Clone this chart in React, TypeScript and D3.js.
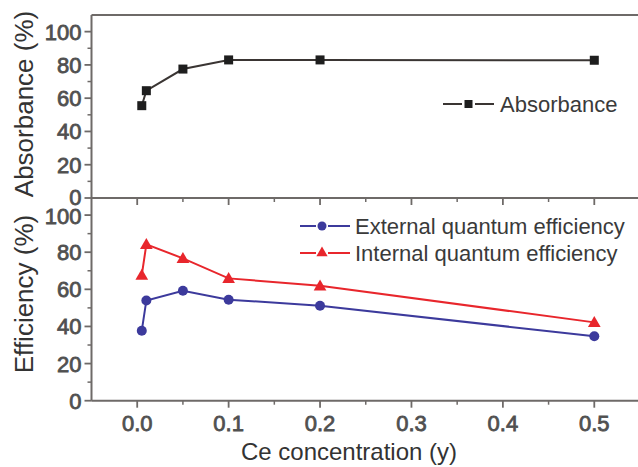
import React, { useEffect, useRef } from 'react';
import * as d3 from 'd3';

// Ce concentration (y)
const ceConc = [0.005, 0.01, 0.05, 0.1, 0.2, 0.5];
// Absorbance (%)
const absorbance = [55.5, 64.5, 77.5, 83, 83, 82.8];
// Efficiency (%)
const externalQE = [37.7, 54, 59.2, 54.4, 51.2, 34.7];
const internalQE = [67.7, 84.2, 76.7, 65.9, 61.9, 42.2];

const xTicks = [0, 0.1, 0.2, 0.3, 0.4, 0.5];
const xMinorTicks = [0.05, 0.15, 0.25, 0.35, 0.45];
const yTicks = [0, 20, 40, 60, 80, 100];
const yMinorTicks = [10, 30, 50, 70, 90];

const FONT = "'Liberation Sans', Arial, Helvetica, sans-serif";

const App = () => {
    const chartRef = useRef<SVGSVGElement>(null);

    useEffect(() => {
        drawChart();
    }, []);

    const drawChart = () => {
        const svg = d3.select(chartRef.current);
        svg.selectAll('*').remove();

        const left = 91.5;
        const right = 640;
        const top = 15;
        const mid = 198;
        const bottom = 400.7;

        const x = d3.scaleLinear().domain([-0.05, 0.55]).range([left, right]);
        const yTop = d3.scaleLinear().domain([0, 110]).range([mid, top]);
        const yBot = d3.scaleLinear().domain([0, 109.2]).range([bottom, mid]);

        const axisColor = '#6e6a68';
        const tickText = '#505050';

        // frame
        [top, mid, bottom].forEach(yy => {
            svg.append('line').attr('x1', left).attr('x2', right).attr('y1', yy).attr('y2', yy)
                .attr('stroke', axisColor).attr('stroke-width', 2);
        });
        svg.append('line').attr('x1', left).attr('x2', left).attr('y1', top).attr('y2', bottom)
            .attr('stroke', axisColor).attr('stroke-width', 2);

        // y ticks for both panels
        [yTop, yBot].forEach((y, pi) => {
            const g = svg.append('g');
            g.selectAll('.major').data(yTicks).enter().append('line')
                .attr('x1', left - 7).attr('x2', left)
                .attr('y1', d => y(d)).attr('y2', d => y(d))
                .attr('stroke', axisColor).attr('stroke-width', 1.8);
            g.selectAll('.minor').data(yMinorTicks).enter().append('line')
                .attr('x1', left - 4).attr('x2', left)
                .attr('y1', d => y(d)).attr('y2', d => y(d))
                .attr('stroke', axisColor).attr('stroke-width', 1.5);
            g.selectAll('text').data(yTicks).enter().append('text')
                .attr('x', left - 10)
                .attr('y', d => y(d) + (pi === 0 && d === 0 ? 7 : pi === 1 && d === 100 ? 9 : 8))
                .attr('text-anchor', 'end')
                .attr('font-family', FONT).attr('font-size', 22)
                .attr('fill', tickText).attr('stroke', tickText).attr('stroke-width', 0.8)
                .text(d => d);
        });

        // x ticks (middle and bottom axes)
        [mid, bottom].forEach(yy => {
            svg.selectAll(null).data(xTicks).enter().append('line')
                .attr('x1', d => x(d)).attr('x2', d => x(d))
                .attr('y1', yy).attr('y2', yy + 7)
                .attr('stroke', axisColor).attr('stroke-width', 1.8);
            svg.selectAll(null).data(xMinorTicks).enter().append('line')
                .attr('x1', d => x(d)).attr('x2', d => x(d))
                .attr('y1', yy).attr('y2', yy + 4)
                .attr('stroke', axisColor).attr('stroke-width', 1.5);
        });

        svg.selectAll(null).data(xTicks).enter().append('text')
            .attr('x', d => x(d)).attr('y', bottom + 30)
            .attr('text-anchor', 'middle')
            .attr('font-family', FONT).attr('font-size', 22)
            .attr('fill', tickText).attr('stroke', tickText).attr('stroke-width', 0.8)
            .text(d => d3.format('.1f')(d));

        // axis titles
        svg.append('text')
            .attr('x', 349).attr('y', 460)
            .attr('text-anchor', 'middle')
            .attr('font-family', FONT).attr('font-size', 24).attr('fill', '#333')
            .text('Ce concentration (y)');
        svg.append('text')
            .attr('transform', `translate(33,104) rotate(-90)`)
            .attr('text-anchor', 'middle')
            .attr('font-family', FONT).attr('font-size', 26).attr('fill', '#333')
            .text('Absorbance (%)');
        svg.append('text')
            .attr('transform', `translate(33,294) rotate(-90)`)
            .attr('text-anchor', 'middle')
            .attr('font-family', FONT).attr('font-size', 26).attr('fill', '#333')
            .text('Efficiency (%)');

        // series
        const absData = ceConc.map((c, i) => ({ c, v: absorbance[i] }));
        const eqeData = ceConc.map((c, i) => ({ c, v: externalQE[i] }));
        const iqeData = ceConc.map((c, i) => ({ c, v: internalQE[i] }));

        const lineTop = d3.line<{ c: number; v: number }>().x(d => x(d.c)).y(d => yTop(d.v));
        const lineBot = d3.line<{ c: number; v: number }>().x(d => x(d.c)).y(d => yBot(d.v));

        const absColor = '#1e1e1e';
        const eqeColor = '#3c3a9c';
        const iqeColor = '#e8262c';

        svg.append('path').datum(absData).attr('d', lineTop)
            .attr('fill', 'none').attr('stroke', '#3a3533').attr('stroke-width', 2);
        svg.selectAll(null).data(absData).enter().append('rect')
            .attr('x', d => x(d.c) - 4.5).attr('y', d => yTop(d.v) - 4.5)
            .attr('width', 9).attr('height', 9).attr('fill', absColor);

        svg.append('path').datum(iqeData).attr('d', lineBot)
            .attr('fill', 'none').attr('stroke', iqeColor).attr('stroke-width', 2);
        const tri = d3.symbol().type(d3.symbolTriangle).size(70);
        svg.selectAll(null).data(iqeData).enter().append('path')
            .attr('d', tri)
            .attr('transform', d => `translate(${x(d.c)},${yBot(d.v) + 1})`)
            .attr('fill', iqeColor);

        svg.append('path').datum(eqeData).attr('d', lineBot)
            .attr('fill', 'none').attr('stroke', eqeColor).attr('stroke-width', 2);
        svg.selectAll(null).data(eqeData).enter().append('circle')
            .attr('cx', d => x(d.c)).attr('cy', d => yBot(d.v))
            .attr('r', 5).attr('fill', eqeColor);

        // legends
        const legText = '#3a3a3a';
        const absLeg = svg.append('g').attr('transform', 'translate(443,104)');
        absLeg.append('line').attr('x1', 0).attr('x2', 19).attr('y1', 0).attr('y2', 0)
            .attr('stroke', '#3a3533').attr('stroke-width', 2);
        absLeg.append('line').attr('x1', 32).attr('x2', 51).attr('y1', 0).attr('y2', 0)
            .attr('stroke', '#3a3533').attr('stroke-width', 2);
        absLeg.append('rect').attr('x', 21.5).attr('y', -4).attr('width', 8).attr('height', 8).attr('fill', absColor);
        absLeg.append('text').attr('x', 57).attr('y', 8)
            .attr('font-family', FONT).attr('font-size', 22).attr('fill', legText)
            .text('Absorbance');

        const effLeg = [
            { label: 'External quantum efficiency', color: eqeColor, y: 226, kind: 'circle' },
            { label: 'Internal quantum efficiency', color: iqeColor, y: 253, kind: 'tri' },
        ];
        effLeg.forEach(l => {
            const g = svg.append('g').attr('transform', `translate(300,${l.y})`);
            g.append('line').attr('x1', 0).attr('x2', 16).attr('y1', 0).attr('y2', 0)
                .attr('stroke', l.color).attr('stroke-width', 2);
            g.append('line').attr('x1', 28).attr('x2', 50).attr('y1', 0).attr('y2', 0)
                .attr('stroke', l.color).attr('stroke-width', 2);
            if (l.kind === 'circle') {
                g.append('circle').attr('cx', 22).attr('cy', 0).attr('r', 4.5).attr('fill', l.color);
            } else {
                g.append('path').attr('d', d3.symbol().type(d3.symbolTriangle).size(55))
                    .attr('transform', 'translate(22,0)').attr('fill', l.color);
            }
            g.append('text').attr('x', 55).attr('y', 8)
                .attr('font-family', FONT).attr('font-size', 22).attr('fill', legText)
                .text(l.label);
        });
    };

    return (
        <div style={{ position: 'absolute', left: 0, top: 0, width: 638, height: 467, background: '#fff' }}>
            <svg ref={chartRef} width={638} height={467} style={{ display: 'block' }}></svg>
        </div>
    );
};

export default App;
